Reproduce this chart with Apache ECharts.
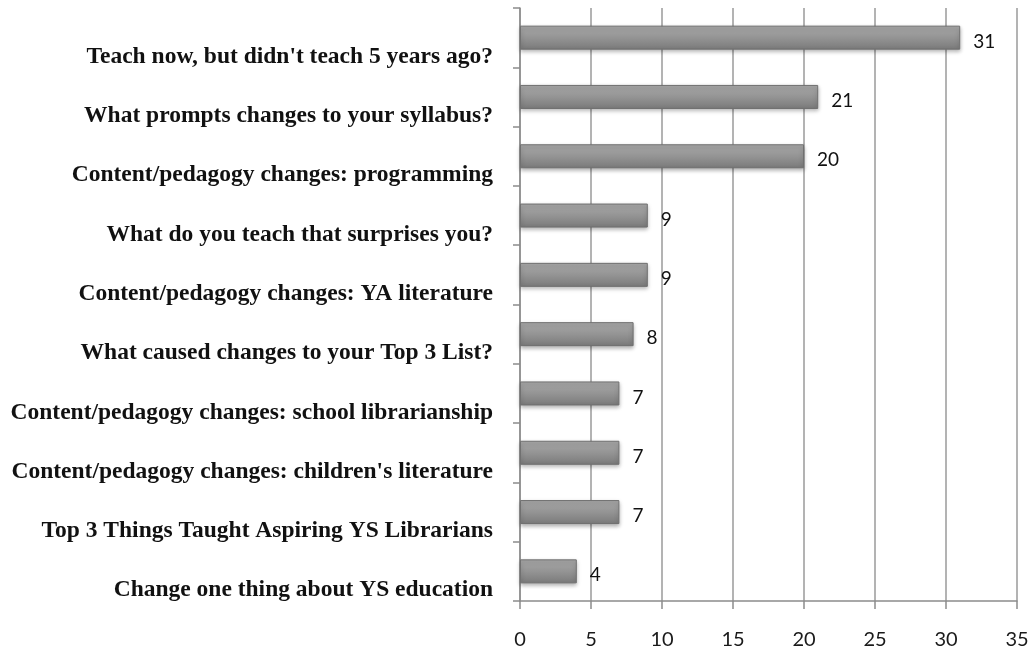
<!DOCTYPE html>
<html>
<head>
<meta charset="utf-8">
<script src="https://cdn.jsdelivr.net/npm/echarts@6/dist/echarts.min.js"></script>
<style>
  html, body { margin: 0; padding: 0; background: #fff; }
  #chart { width: 1036px; height: 652px; }
</style>
</head>
<body>
<div id="chart"></div>
<script>
// 问题类别（自上而下）
var categories = [
    "Teach now, but didn't teach 5 years ago?",
    "What prompts changes to your syllabus?",
    "Content/pedagogy changes: programming",
    "What do you teach that surprises you?",
    "Content/pedagogy changes: YA literature",
    "What caused changes to your Top 3 List?",
    "Content/pedagogy changes: school librarianship",
    "Content/pedagogy changes: children's literature",
    "Top 3 Things Taught Aspiring YS Librarians",
    "Change one thing about YS education"
];
// 每类的回答数
var counts = [31, 21, 20, 9, 9, 8, 7, 7, 7, 4];
// x 轴刻度
var xMin = 0, xMax = 35, xStep = 5;

var axisGray = '#8c8c8c';

var myChart = echarts.init(document.getElementById('chart'));
myChart.setOption({
    animation: false,
    grid: { left: 520, right: 19, top: 8, bottom: 51, containLabel: false, outerBoundsMode: 'none' },
    xAxis: {
        type: 'value',
        min: xMin,
        max: xMax,
        interval: xStep,
        axisLine: { show: true, lineStyle: { color: axisGray, width: 1.5 } },
        axisTick: { show: true, length: 8, lineStyle: { color: axisGray, width: 1.5 } },
        splitLine: { show: true, lineStyle: { color: '#9a9a9a', width: 1.5 } },
        axisLabel: {
            margin: 29,
            color: '#1a1a1a',
            fontSize: 20,
            fontFamily: 'Lato, "Open Sans", sans-serif'
        }
    },
    yAxis: {
        type: 'category',
        inverse: true,
        data: categories,
        axisLine: { show: true, lineStyle: { color: axisGray, width: 1.5 } },
        axisTick: { show: true, length: 7, lineStyle: { color: axisGray, width: 1.5 } },
        axisLabel: {
            margin: 27,
            // 标签位于柱子下方一点
            formatter: function (v) { return '{l|' + v + '}'; },
            rich: {
                l: {
                    color: '#111',
                    fontSize: 23.5,
                    fontWeight: 'bold',
                    fontFamily: '"Liberation Serif", "DejaVu Serif", serif',
                    padding: [38, 0, 0, 0]
                }
            }
        }
    },
    series: [{
        type: 'bar',
        data: counts,
        barWidth: 24,
        itemStyle: {
            color: new echarts.graphic.LinearGradient(0, 0, 0, 1, [
                { offset: 0, color: '#a9a9a9' },
                { offset: 0.5, color: '#949494' },
                { offset: 1, color: '#7a7a7a' }
            ]),
            borderColor: '#707070',
            borderWidth: 1,
            shadowColor: 'rgba(0,0,0,0.3)',
            shadowBlur: 4,
            shadowOffsetY: 2
        },
        label: {
            show: true,
            position: 'right',
            distance: 13,
            offset: [0, 4],
            color: '#111',
            fontSize: 19,
            fontFamily: 'Lato, "Open Sans", sans-serif'
        }
    }]
});
</script>
</body>
</html>
